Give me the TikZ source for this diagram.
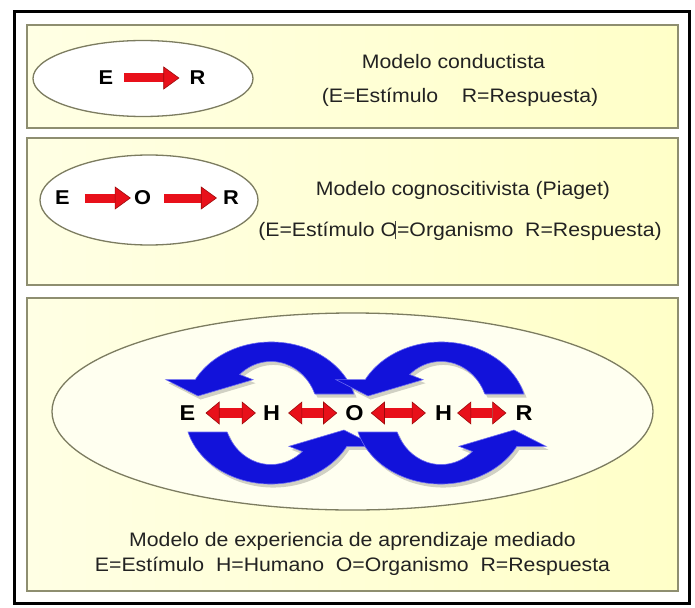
\documentclass[tikz,border=0pt]{standalone}
\usepackage{fontspec}
\setmainfont{Liberation Sans}[FakeStretch=1.09]
\usetikzlibrary{arrows.meta}
\definecolor{panelfill}{HTML}{FFFFC8}
\definecolor{panelfillL}{HTML}{FFFFE4}
\definecolor{panelline}{HTML}{8E8E70}
\definecolor{ellline}{HTML}{7C7C60}
\definecolor{ellfillA}{HTML}{FFFFFF}
\definecolor{ellfillB}{HTML}{FFFFF0}
\definecolor{redA}{HTML}{E8101A}
\definecolor{redD}{HTML}{9A0A0A}
\definecolor{blueA}{HTML}{1212DA}
\definecolor{blueL}{HTML}{6A6AF2}
\definecolor{txtc}{HTML}{222222}

% one half of a circular two-arrow cycle, local coordinates with y up
\newcommand\halfcycle[1]{%
  \path[#1] (44,19) -- (83,19)
    arc[start angle=15.5, end angle=152, x radius=86, y radius=71]
    -- (-105,33.3) -- (-73,17) -- (-18,33.3) -- (-31.4,38.5)
    arc[start angle=131.9, end angle=22, x radius=47, y radius=51] -- cycle;}
\newcommand\cycleshadow[1]{%
  \begin{scope}[shift={#1}, yscale=-1]
    \halfcycle{fill=black, opacity=0.18, shift={(2.5,-3.5)}}
    \halfcycle{fill=black, opacity=0.18, shift={(2.5,-3.5)}, rotate=180}
  \end{scope}}
\newcommand\cyclefill[1]{%
  \begin{scope}[shift={#1}, yscale=-1]
    \halfcycle{fill=blueA, draw=blueL, line width=0.6pt}
    \halfcycle{fill=blueA, draw=blueL, line width=0.6pt, rotate=180}
  \end{scope}}

\begin{document}
\begin{tikzpicture}[x=1pt, y=-1pt,
  panel/.style={draw=panelline, line width=1.6pt, left color=panelfillL, right color=panelfill},
  oval/.style={draw=ellline, line width=1.3pt},
  txt/.style={font=\fontsize{19.5}{22}\selectfont, text=txtc, inner sep=0pt},
  lett/.style={font=\fontsize{20}{20}\selectfont\bfseries, text=black, inner sep=0pt},
  lettbig/.style={font=\fontsize{21.5}{22}\selectfont\bfseries, text=black, inner sep=0pt},
  redarr/.style={line width=9pt, draw=redA, -{Triangle[width=23pt, length=16pt, line width=0.6pt, color=redD, fill=redA]}},
  redarr2/.style={line width=10.5pt, draw=redA, {Triangle[width=23pt, length=14pt, line width=0.6pt, color=redD, fill=redA]}-{Triangle[width=23pt, length=14pt, line width=0.6pt, color=redD, fill=redA]}}
]
\useasboundingbox (0,0) rectangle (695,607);
\fill[white] (0,0) rectangle (695,607);
\draw[line width=3pt, black] (14,12) rectangle (689,603);

% panels
\draw[panel] (27,25) rectangle (678,128);
\draw[panel] (27,138) rectangle (678,285);
\draw[panel] (27,298) rectangle (678,591);

% ---- panel 1
\draw[oval, fill=ellfillA] (143,78.5) ellipse [x radius=110, y radius=38];
\node[lett] (E1) at (106,78) {E};
\node[lett] (R1) at (197.5,78) {R};
\draw[redarr] ([xshift=11pt]E1.east) -- ([xshift=-10pt]R1.west);
\node[txt] (t1a) at (453.5,62) {Modelo conductista};
\node[txt] (t1b) at (460,97) {(E=Estímulo\ \ \ \ R=Respuesta)};

% ---- panel 2
\draw[oval, fill=ellfillA] (149,200) ellipse [x radius=109, y radius=45];
\node[lett] (E2) at (62.5,198) {E};
\node[lett] (O2) at (142.5,198) {O};
\node[lett] (R2) at (231,198) {R};
\draw[redarr] ([xshift=15pt]E2.east) -- ([xshift=-3pt]O2.west);
\draw[redarr] ([xshift=13pt]O2.east) -- ([xshift=-6pt]R2.west);
\node[txt] (t2a) at (463,190) {Modelo cognoscitivista (Piaget)};
\node[txt] (t2b) at (460,231) {(E=Estímulo O\kern-1.5pt\hbox to 0pt{\hss\color{darkgray}\rule[-3pt]{0.8pt}{18pt}\hss}\kern1.5pt=Organismo\ \ R=Respuesta)};

% ---- panel 3
\draw[oval, fill=ellfillB] (352.5,411.5) ellipse [x radius=300.5, y radius=98.5];
\cycleshadow{(271,413)}
\cycleshadow{(441,413)}
\cyclefill{(271,413)}
\cyclefill{(441,413)}
\node[lettbig] (E3) at (187.5,413) {E};
\node[lettbig] (H3a) at (271.5,413) {H};
\node[lettbig] (O3) at (354.5,413) {O};
\node[lettbig] (H3b) at (443.5,413) {H};
\node[lettbig] (R3) at (524,413) {R};
\draw[redarr2] ([xshift=10pt]E3.east) -- ([xshift=-7pt]H3a.west);
\draw[redarr2] ([xshift=8pt]H3a.east) -- ([xshift=-8pt]O3.west);
\draw[redarr2] ([xshift=7pt]O3.east) -- ([xshift=-9pt]H3b.west);
\draw[redarr2] ([xshift=5pt]H3b.east) -- ([xshift=-9pt]R3.west);
\node[txt] (t3a) at (352.5,541) {Modelo de experiencia de aprendizaje mediado};
\node[txt] (t3b) at (352.5,566) {E=Estímulo\ \ H=Humano\ \ O=Organismo\ \ R=Respuesta};
\end{tikzpicture}
\end{document}
